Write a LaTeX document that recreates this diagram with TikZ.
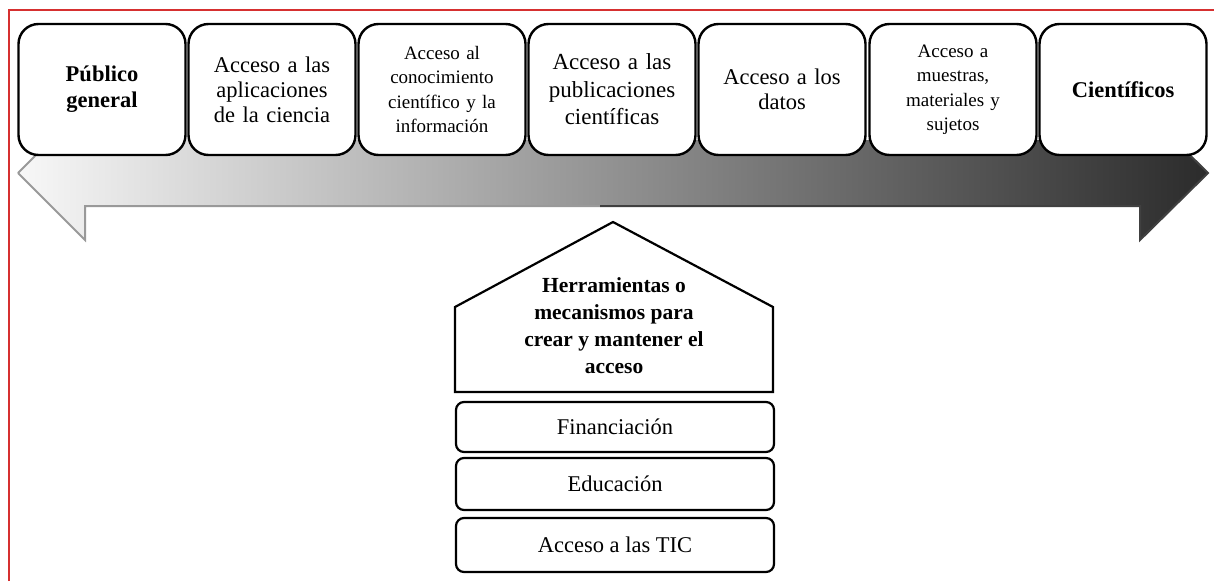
\documentclass[tikz,border=0pt]{standalone}
\usepackage{fontspec}
\setmainfont{Liberation Serif}
\begin{document}
\begin{tikzpicture}[x=1pt,y=-1pt,
  topbox/.style={draw=black, line width=2.4pt, rounded corners=20pt, fill=white,
    minimum width=167pt, minimum height=131pt, text width=162pt, align=center, inner sep=0pt},
  lowbox/.style={draw=black, line width=2.2pt, rounded corners=8pt, fill=white,
    minimum width=318pt, align=center, inner sep=0pt},
  big/.style={font=\fontsize{22.5}{25}\selectfont},
  small/.style={font=\fontsize{19}{24.5}\selectfont},
  bbig/.style={font=\fontsize{22.5}{26}\selectfont\bfseries},
]
\useasboundingbox (0,0) rectangle (1214,581);
% red frame
\draw[color={rgb,255:red,214;green,48;blue,48}, line width=1.5pt] (9,581) -- (9,10) -- (1214,10);
% double arrow
\path[left color=black!3, middle color=black!26, right color=black!83, shading angle=90]
  (18,173) -- (85,106) -- (85,140) -- (1140,140) -- (1140,106) -- (1208,173)
  -- (1140,240) -- (1140,206) -- (85,206) -- (85,240) -- cycle;
\draw[black!40, line width=2pt, line join=miter]
  (18,173) -- (85,106) (18,173) -- (85,240) -- (85,206) -- (600,206);
\draw[black!75, line width=2pt, line join=miter]
  (600,206) -- (1140,206) -- (1140,240) -- (1208,173) -- (1140,106);
% top boxes
\node[topbox, bbig]  (b1) at (102,89.5) {Público\\general};
\node[topbox, big]   (b2) at (272,89.5) {Acceso a las\\aplicaciones\\de la ciencia};
\node[topbox, small] (b3) at (442,89.5) {Acceso al\\conocimiento\\científico y la\\información};
\node[topbox, font=\fontsize{23}{27.5}\selectfont] (b4) at (612,89.5) {Acceso a las\\publicaciones\\científicas};
\node[topbox, big]   (b5) at (782,89.5) {Acceso a los\\datos\\[25pt]};
\node[topbox, small] (b6) at (953,89.5) {Acceso a\\muestras,\\materiales y\\sujetos};
\node[topbox, bbig]  (b7) at (1123,89.5) {Científicos\\[20pt]};
% house
\draw[black, line width=2.2pt, line join=miter, fill=white]
  (455,392) -- (455,307) -- (613,222) -- (773,307) -- (773,392) -- cycle;
\node[font=\fontsize{21.5}{27}\selectfont\bfseries, align=center, inner sep=0pt] (house) at (614,326)
  {Herramientas o\\mecanismos para\\crear y mantener el\\acceso};
% lower boxes
\node[lowbox, font=\fontsize{22.5}{25}\selectfont, minimum height=50pt] (f) at (615,427) {Financiación};
\node[lowbox, font=\fontsize{22.5}{25}\selectfont, minimum height=52pt] (e) at (615,484) {Educación};
\node[lowbox, font=\fontsize{22.5}{25}\selectfont, minimum height=54pt] (t) at (615,545) {Acceso a las TIC};
\end{tikzpicture}
\end{document}
